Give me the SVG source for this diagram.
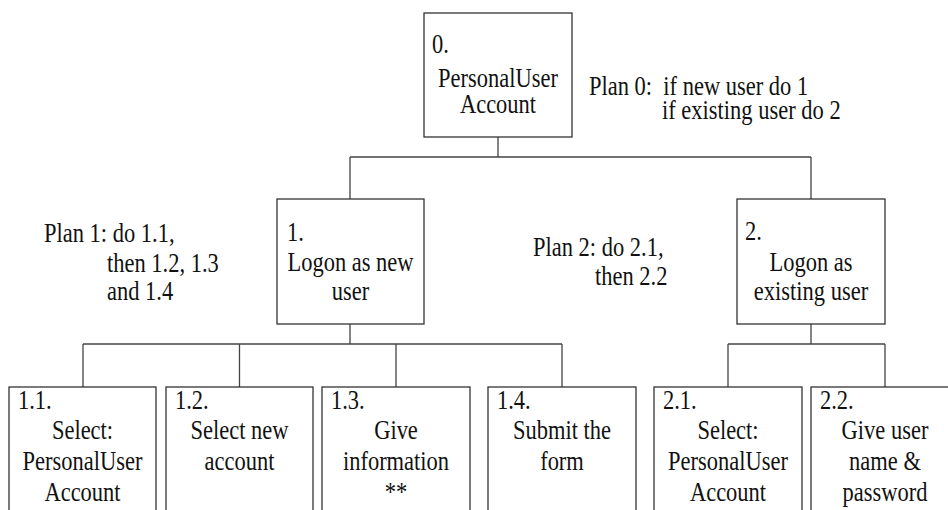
<svg xmlns="http://www.w3.org/2000/svg" width="948" height="510" viewBox="0 0 948 510">
<style>
.box{fill:#fff;stroke:#333;stroke-width:1.3}
.ln{stroke:#444;stroke-width:1.3;fill:none}
text{font-family:"Liberation Serif","Times New Roman",serif;font-size:22.5px;fill:#111}
.c{text-anchor:middle}
</style>
<rect width="948" height="510" fill="#fff"/>
<g id="connectors">
<path class="ln" d="M498 137V157M350 157H811M350 157V199M811 157V199"/>
<path class="ln" d="M350 324V344M83 344H562M83 344V387M239.5 344V387M396 344V387M562 344V387"/>
<path class="ln" d="M811 324V344M728 344H885M728 344V387M885 344V387"/>
</g>
<g id="n0">
<rect class="box" x="424" y="13" width="148" height="124"/>
<text transform="matrix(1 0 0 1.18 432 53)">0.</text>
<text class="c" transform="matrix(1 0 0 1.18 498 87)">PersonalUser</text>
<text class="c" transform="matrix(1 0 0 1.18 498 113)">Account</text>
</g>
<g id="plan0">
<text xml:space="preserve" transform="matrix(1 0 0 1.18 589 95)">Plan 0:  if new user do 1</text>
<text transform="matrix(1 0 0 1.18 662 119)">if existing user do 2</text>
</g>
<g id="n1">
<rect class="box" x="277" y="199" width="147" height="125"/>
<text transform="matrix(1 0 0 1.18 287 241)">1.</text>
<text class="c" transform="matrix(1 0 0 1.18 350.5 271)">Logon as new</text>
<text class="c" transform="matrix(1 0 0 1.18 350.5 299.5)">user</text>
</g>
<g id="plan1">
<text transform="matrix(1 0 0 1.18 44 241.5)">Plan 1: do 1.1,</text>
<text transform="matrix(1 0 0 1.18 107 271.5)">then 1.2, 1.3</text>
<text transform="matrix(1 0 0 1.18 107 300)">and 1.4</text>
</g>
<g id="plan2">
<text transform="matrix(1 0 0 1.18 533 256)">Plan 2: do 2.1,</text>
<text transform="matrix(1 0 0 1.18 595 285)">then 2.2</text>
</g>
<g id="n2">
<rect class="box" x="737" y="199" width="148" height="125"/>
<text transform="matrix(1 0 0 1.18 745 240)">2.</text>
<text class="c" transform="matrix(1 0 0 1.18 811 270.5)">Logon as</text>
<text class="c" transform="matrix(1 0 0 1.18 811 299.5)">existing user</text>
</g>
<g id="n1_1">
<rect class="box" x="9" y="387" width="147" height="140"/>
<text transform="matrix(1 0 0 1.18 18 409)">1.1.</text>
<text class="c" transform="matrix(1 0 0 1.18 82.5 439)">Select:</text>
<text class="c" transform="matrix(1 0 0 1.18 82.5 470)">PersonalUser</text>
<text class="c" transform="matrix(1 0 0 1.18 82.5 501)">Account</text>
</g>
<g id="n1_2">
<rect class="box" x="166" y="387" width="147" height="140"/>
<text transform="matrix(1 0 0 1.18 175 409)">1.2.</text>
<text class="c" transform="matrix(1 0 0 1.18 239.5 439)">Select new</text>
<text class="c" transform="matrix(1 0 0 1.18 239.5 470)">account</text>
</g>
<g id="n1_3">
<rect class="box" x="322" y="387" width="148" height="140"/>
<text transform="matrix(1 0 0 1.18 331 409)">1.3.</text>
<text class="c" transform="matrix(1 0 0 1.18 396 439)">Give</text>
<text class="c" transform="matrix(1 0 0 1.18 396 470)">information</text>
<text class="c" transform="matrix(1 0 0 1.18 396 501)">**</text>
</g>
<g id="n1_4">
<rect class="box" x="488" y="387" width="148" height="140"/>
<text transform="matrix(1 0 0 1.18 497 409)">1.4.</text>
<text class="c" transform="matrix(1 0 0 1.18 562 439)">Submit the</text>
<text class="c" transform="matrix(1 0 0 1.18 562 470)">form</text>
</g>
<g id="n2_1">
<rect class="box" x="654" y="387" width="148" height="140"/>
<text transform="matrix(1 0 0 1.18 663 409)">2.1.</text>
<text class="c" transform="matrix(1 0 0 1.18 728 439)">Select:</text>
<text class="c" transform="matrix(1 0 0 1.18 728 470)">PersonalUser</text>
<text class="c" transform="matrix(1 0 0 1.18 728 501)">Account</text>
</g>
<g id="n2_2">
<rect class="box" x="811" y="387" width="148" height="140"/>
<text transform="matrix(1 0 0 1.18 820 409)">2.2.</text>
<text class="c" transform="matrix(1 0 0 1.18 885 439)">Give user</text>
<text class="c" transform="matrix(1 0 0 1.18 885 470)">name &amp;</text>
<text class="c" transform="matrix(1 0 0 1.18 885 501)">password</text>
</g>
</svg>
